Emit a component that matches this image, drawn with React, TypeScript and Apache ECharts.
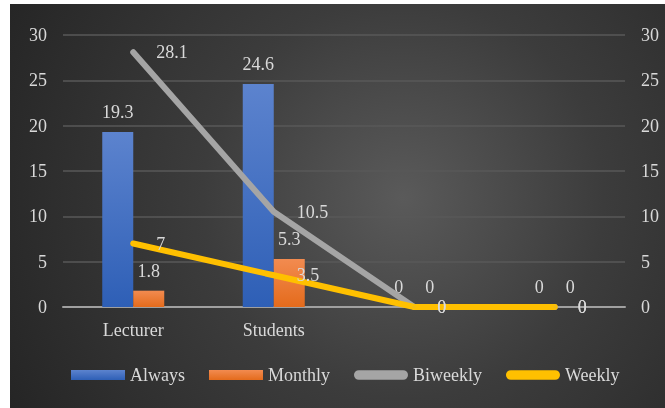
import React, { useEffect, useRef } from 'react';
import * as echarts from 'echarts';

const categories = ['Lecturer', 'Students', '', ''];
const always = [19.3, 24.6, 0, 0];
const monthly = [1.8, 5.3, 0, 0];
const biweekly = [28.1, 10.5, 0, 0];
const weekly = [7, 3.5, 0, 0];
const yMin = 0;
const yMax = 30;
const yStep = 5;

const FONT = "'Liberation Serif', 'Times New Roman', serif";
const TXT = '#d9d9d9';

export default function App() {
  const ref = useRef<HTMLDivElement>(null);
  useEffect(() => {
    if (!ref.current) return;
    const chart = echarts.init(ref.current, undefined, { renderer: 'svg' });
    const pill = 'path://M5,0 L51,0 A5,5 0 0 1 51,10 L5,10 A5,5 0 0 1 5,0 Z';
    const barLabel = {
      show: true,
      position: 'top' as const,
      distance: 11,
      color: TXT,
      fontSize: 18,
      fontFamily: FONT,
    };
    const lineLabel = {
      show: true,
      position: 'right' as const,
      distance: 22,
      color: TXT,
      fontSize: 18,
      fontFamily: FONT,
    };
    chart.setOption({
      animation: false,
      backgroundColor: 'transparent',
      textStyle: { fontFamily: FONT, color: TXT },
      grid: { left: 53, right: 40, top: 31, bottom: 101, containLabel: false },
      legend: {
        left: 56,
        top: 357,
        itemWidth: 54,
        itemHeight: 10,
        itemGap: 24,
        textStyle: { color: TXT, fontSize: 18, fontFamily: FONT },
        data: [
          { name: 'Always', icon: 'rect' },
          { name: 'Monthly', icon: 'rect' },
          { name: 'Biweekly', icon: pill, itemStyle: { color: '#a5a5a5' } },
          { name: 'Weekly', icon: pill, itemStyle: { color: '#ffc000' } },
        ],
      },
      xAxis: {
        type: 'category',
        data: categories,
        axisTick: { show: false },
        axisLine: { lineStyle: { color: '#a0a0a0', width: 2 } },
        axisLabel: { color: TXT, fontSize: 18, fontFamily: FONT, margin: 14 },
      },
      yAxis: [
        {
          type: 'value',
          min: yMin,
          max: yMax,
          interval: yStep,
          axisLine: { show: false },
          axisTick: { show: false },
          axisLabel: { color: TXT, fontSize: 18, fontFamily: FONT, margin: 16 },
          splitLine: { lineStyle: { color: '#585858', width: 1.5 } },
        },
        {
          type: 'value',
          min: yMin,
          max: yMax,
          interval: yStep,
          position: 'right',
          axisLine: { show: false },
          axisTick: { show: false },
          axisLabel: { color: TXT, fontSize: 18, fontFamily: FONT, margin: 16 },
          splitLine: { show: false },
        },
      ],
      series: [
        {
          name: 'Always',
          type: 'bar',
          data: always,
          barWidth: 31,
          barGap: '0%',
          itemStyle: {
            color: new echarts.graphic.LinearGradient(0, 0, 0, 1, [
              { offset: 0, color: '#5c83ce' },
              { offset: 1, color: '#2e5fb6' },
            ]),
          },
          label: barLabel,
        },
        {
          name: 'Monthly',
          type: 'bar',
          data: monthly,
          barWidth: 31,
          barGap: '0%',
          itemStyle: {
            color: new echarts.graphic.LinearGradient(0, 0, 0, 1, [
              { offset: 0, color: '#f28b50' },
              { offset: 1, color: '#e46b1c' },
            ]),
          },
          label: barLabel,
        },
        {
          name: 'Biweekly',
          type: 'line',
          data: biweekly,
          symbol: 'circle',
          symbolSize: 2,
          itemStyle: { color: '#a5a5a5' },
          lineStyle: { color: '#a5a5a5', width: 6, cap: 'round', join: 'round' },
          label: lineLabel,
        },
        {
          name: 'Weekly',
          type: 'line',
          data: weekly,
          symbol: 'circle',
          symbolSize: 2,
          itemStyle: { color: '#ffc000' },
          lineStyle: { color: '#ffc000', width: 6, cap: 'round', join: 'round' },
          label: lineLabel,
        },
      ],
    });
    return () => chart.dispose();
  }, []);
  return (
    <div
      ref={ref}
      style={{
        position: 'fixed',
        left: 10,
        top: 4,
        width: 655,
        height: 404,
        background:
          'radial-gradient(circle farthest-corner at 60% 48%, #5a5a5a 0%, #3c3c3c 45%, #252525 100%)',
      }}
    />
  );
}
